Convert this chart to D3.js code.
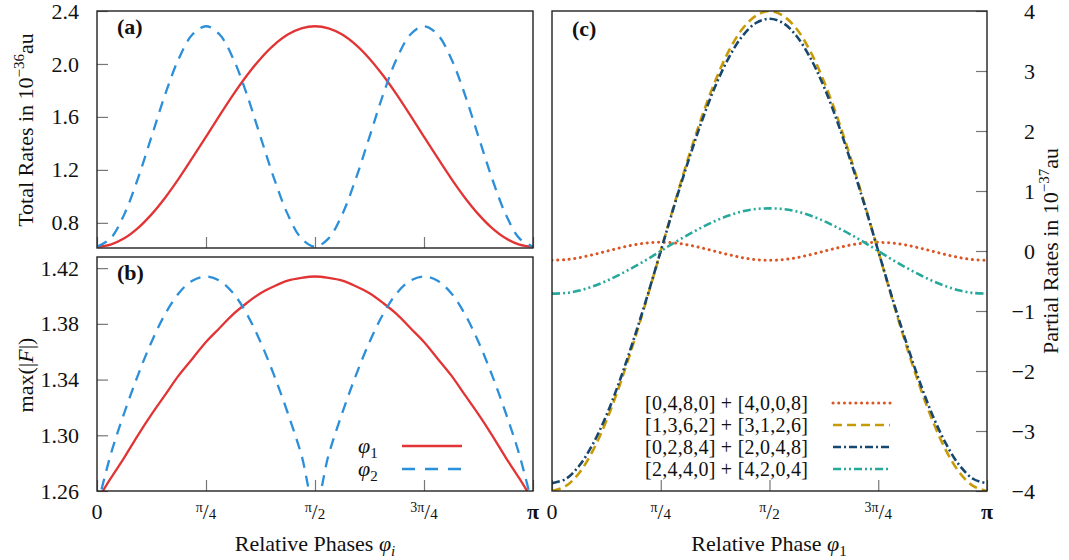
<!DOCTYPE html>
<html><head><meta charset="utf-8">
<script src="https://cdn.jsdelivr.net/npm/d3@7"></script>
<style>
body{margin:0;background:#fff}
svg{display:block}
text{font-family:"Liberation Serif","Times New Roman","DejaVu Serif",serif;fill:#111}
</style>
</head><body>
<svg id="chart" width="1069" height="560" font-family="Liberation Serif, Times New Roman, serif"></svg>
<script>
const PI = Math.PI;
// phase grid (33 samples from 0 to pi)
const phases = d3.range(33).map(k => k * PI / 32);

// Panel (a): total rates (10^-36 au)
const totalPhi1 = [0.620,0.636,0.683,0.760,0.864,0.990,1.134,1.290,1.450,1.612,1.769,1.913,2.040,2.144,2.222,2.269,2.285,2.269,2.222,2.144,2.040,1.913,1.769,1.612,1.450,1.290,1.134,0.990,0.864,0.760,0.683,0.636,0.620];
const totalPhi2 = [0.620,0.683,0.864,1.134,1.450,1.769,2.040,2.222,2.285,2.222,2.040,1.769,1.450,1.134,0.864,0.683,0.620,0.683,0.864,1.134,1.450,1.769,2.040,2.222,2.285,2.222,2.040,1.769,1.450,1.134,0.864,0.683,0.620];

// Panel (b): max(|F|)
const fieldPhi1 = [1.253,1.269,1.284,1.300,1.315,1.329,1.343,1.355,1.367,1.377,1.387,1.395,1.402,1.407,1.411,1.413,1.414,1.413,1.411,1.407,1.402,1.395,1.387,1.377,1.367,1.355,1.343,1.329,1.315,1.300,1.284,1.269,1.253];
const fieldPhi2 = [1.248,1.286,1.316,1.343,1.367,1.387,1.402,1.411,1.414,1.411,1.402,1.387,1.367,1.343,1.316,1.286,1.248,1.286,1.316,1.343,1.367,1.387,1.402,1.411,1.414,1.411,1.402,1.387,1.367,1.343,1.316,1.286,1.248];

// Panel (c): partial rates (10^-37 au)
const partial0480 = [-0.155,-0.144,-0.111,-0.062,-0.005,0.052,0.101,0.134,0.145,0.134,0.101,0.052,-0.005,-0.062,-0.111,-0.144,-0.155,-0.144,-0.111,-0.062,-0.005,0.052,0.101,0.134,0.145,0.134,0.101,0.052,-0.005,-0.062,-0.111,-0.144,-0.155];
const partial1362 = [-4.00,-3.92,-3.70,-3.33,-2.83,-2.22,-1.53,-0.78,0.00,0.78,1.53,2.22,2.83,3.33,3.70,3.92,4.00,3.92,3.70,3.33,2.83,2.22,1.53,0.78,0.00,-0.78,-1.53,-2.22,-2.83,-3.33,-3.70,-3.92,-4.00];
const partial0284 = [-3.87,-3.80,-3.58,-3.22,-2.74,-2.15,-1.48,-0.76,0.00,0.76,1.48,2.15,2.74,3.22,3.58,3.80,3.87,3.80,3.58,3.22,2.74,2.15,1.48,0.76,0.00,-0.76,-1.48,-2.15,-2.74,-3.22,-3.58,-3.80,-3.87];
const partial2440 = [-0.71,-0.70,-0.66,-0.59,-0.50,-0.39,-0.27,-0.14,0.00,0.14,0.27,0.39,0.50,0.59,0.66,0.70,0.71,0.70,0.66,0.59,0.50,0.39,0.27,0.14,0.00,-0.14,-0.27,-0.39,-0.50,-0.59,-0.66,-0.70,-0.71];

const legendAB = ["1", "2"];
const legendC = ["[0,4,8,0] + [4,0,0,8]", "[1,3,6,2] + [3,1,2,6]", "[0,2,8,4] + [2,0,4,8]", "[2,4,4,0] + [4,2,0,4]"];

const phaseTicks = [0, PI/4, PI/2, 3*PI/4, PI];
const phaseTickLabels = ["0", "π/4", "π/2", "3π/4", "π"];
const totalTicks = [0.8, 1.2, 1.6, 2.0, 2.4];
const fieldTicks = [1.26, 1.30, 1.34, 1.38, 1.42];
const partialTicks = [-4, -3, -2, -1, 0, 1, 2, 3, 4];

const svg = d3.select("#chart");
const PA = {x0:97, x1:533, y0:11, y1:248};
const PB = {x0:97, x1:533, y0:257, y1:491};
const PC = {x0:552, x1:987, y0:11, y1:491};

const xAB = d3.scaleLinear([0, PI], [PA.x0, PA.x1]);
const xC = d3.scaleLinear([0, PI], [PC.x0, PC.x1]);
const yA = d3.scaleLinear([0.61, 2.4], [PA.y1, PA.y0]);
const yB = d3.scaleLinear([1.26, 1.428], [PB.y1, PB.y0]);
const yC = d3.scaleLinear([-4, 4], [PC.y1, PC.y0]);

const RED = "#e23434", BLUE = "#2b8fda";
const ORANGE = "#dd5522", GOLD = "#c89b06", NAVY = "#17466f", TEAL = "#26a89b";

const defs = svg.append("defs");
[["clipA",PA],["clipB",PB],["clipC",PC]].forEach(([id,P]) => {
  defs.append("clipPath").attr("id", id).append("rect")
    .attr("x", P.x0).attr("y", P.y0).attr("width", P.x1-P.x0).attr("height", P.y1-P.y0);
});

function styleAxis(g){
  g.select(".domain").remove();
  g.selectAll(".tick line").attr("stroke", "#777").attr("stroke-width", 1.2);
  g.attr("font-family", "Liberation Serif, Times New Roman, serif").attr("font-size", null);
  g.selectAll(".tick text").attr("font-size", 22).attr("fill", "#111");
}

// y axes
svg.append("g").attr("transform", `translate(${PA.x0},0)`)
  .call(d3.axisLeft(yA).tickValues(totalTicks).tickSize(-11).tickPadding(18).tickFormat(d3.format(".1f")))
  .call(styleAxis);
svg.append("g").attr("transform", `translate(${PB.x0},0)`)
  .call(d3.axisLeft(yB).tickValues(fieldTicks).tickSize(-11).tickPadding(18).tickFormat(d3.format(".2f")))
  .call(styleAxis);
const rAx = svg.append("g").attr("transform", `translate(${PC.x1},0)`)
  .call(d3.axisRight(yC).tickValues(partialTicks).tickSize(-11).tickPadding(0).tickFormat(d3.format("d")))
  .call(styleAxis);
rAx.selectAll(".tick text").attr("text-anchor", "end").attr("x", 48);

// x axes
[[PA.y1, xAB], [PB.y1, xAB], [PC.y1, xC]].forEach(([y, xs]) => {
  svg.append("g").attr("transform", `translate(0,${y})`)
    .call(d3.axisBottom(xs).tickValues(phaseTicks).tickSize(-11).tickFormat(""))
    .call(styleAxis);
});

// x tick labels (nicefrac style)
function phaseLabels(xs){
  phaseTicks.forEach((v, i) => {
    const lab = phaseTickLabels[i];
    const t = svg.append("text").attr("x", xs(v)).attr("y", 519).attr("text-anchor", "middle");
    if (lab.includes("/")) {
      const [num, den] = lab.split("/");
      t.append("tspan").attr("font-size", 14).attr("dy", -7).text(num);
      t.append("tspan").attr("font-size", 21).attr("dy", 7).text("/");
      t.append("tspan").attr("font-size", 15).text(den);
    } else if (lab === "π") {
      t.attr("font-size", 22).attr("font-weight", "bold").text(lab);
    } else {
      t.attr("font-size", 22).text(lab);
    }
  });
}
phaseLabels(xAB);
phaseLabels(xC);

// curves
function curve(clip, ys, xs, vals, color, dash, width, cap){
  const line = d3.line().x((d,i) => xs(phases[i])).y(d => ys(d)).curve(d3.curveCatmullRom.alpha(0.5));
  svg.append("path").attr("clip-path", `url(#${clip})`).attr("d", line(vals))
    .attr("fill", "none").attr("stroke", color).attr("stroke-width", width)
    .attr("stroke-dasharray", dash).attr("stroke-linecap", cap || "butt");
}
curve("clipA", yA, xAB, totalPhi1, RED, null, 2.3);
curve("clipA", yA, xAB, totalPhi2, BLUE, "11,8", 2.3);
curve("clipB", yB, xAB, fieldPhi1, RED, null, 2.3);
curve("clipB", yB, xAB, fieldPhi2, BLUE, "11,8", 2.3);

const cStyles = [
  [partial0480, ORANGE, "0.1,5.6", 3, "round"],
  [partial1362, GOLD, "9,5", 2.6, "butt"],
  [partial0284, NAVY, "8,3,2,3", 2.6, "butt"],
  [partial2440, TEAL, "8,3,2,3,2,3", 2.6, "butt"]
];
cStyles.forEach(s => curve("clipC", yC, xC, s[0], s[1], s[2], s[3], s[4]));

// frames
[PA, PB, PC].forEach(P => {
  svg.append("rect").attr("x", P.x0).attr("y", P.y0).attr("width", P.x1-P.x0).attr("height", P.y1-P.y0)
    .attr("fill", "none").attr("stroke", "#222").attr("stroke-width", 1.4);
});

// panel labels
[["(a)",117,34],["(b)",117,280],["(c)",572,36]].forEach(([t,x,y]) => {
  svg.append("text").attr("x", x).attr("y", y).attr("font-size", 22).attr("font-weight", "bold").text(t);
});

// legend (b)
[[RED, null],[BLUE, "13,10"]].forEach(([c, dash], i) => {
  const y = 446 + i*23;
  const t = svg.append("text").attr("x", 358).attr("y", y + 7).attr("font-size", 22);
  t.append("tspan").attr("font-style", "italic").text("φ");
  t.append("tspan").attr("font-size", 15).attr("dy", 5).text(legendAB[i]);
  svg.append("line").attr("x1", 402).attr("x2", 462).attr("y1", y).attr("y2", y)
    .attr("stroke", c).attr("stroke-width", 2.3).attr("stroke-dasharray", dash);
});

// legend (c)
legendC.forEach((lab, i) => {
  const y = 403 + i*22;
  svg.append("text").attr("x", 645).attr("y", y + 7).attr("font-size", 20)
    .attr("textLength", 163).attr("lengthAdjust", "spacing").text(lab);
  const s = cStyles[i];
  svg.append("line").attr("x1", 833).attr("x2", 890).attr("y1", y).attr("y2", y)
    .attr("stroke", s[1]).attr("stroke-width", s[3]).attr("stroke-dasharray", s[2]).attr("stroke-linecap", s[4]);
});

// axis titles
function rotTitle(x, y, parts){
  const t = svg.append("text").attr("transform", `translate(${x},${y}) rotate(-90)`)
    .attr("text-anchor", "middle").attr("font-size", 22);
  parts.forEach(p => {
    const ts = t.append("tspan").text(p.t);
    if (p.sup) ts.attr("font-size", 15).attr("dy", -9);
    if (p.back) ts.attr("dy", 9);
    if (p.it) ts.attr("font-style", "italic");
  });
}
rotTitle(33, 130, [{t:"Total Rates in 10"},{t:"−36",sup:true},{t:"au",back:true}]);
rotTitle(33, 375, [{t:"max(|"},{t:"F",it:true},{t:"|)"}]);
rotTitle(1058, 251, [{t:"Partial Rates in 10"},{t:"−37",sup:true},{t:"au",back:true}]);

function xTitle(x, main, sub, subItalic){
  const t = svg.append("text").attr("x", x).attr("y", 551).attr("text-anchor", "middle").attr("font-size", 22);
  t.append("tspan").text(main);
  t.append("tspan").attr("font-style", "italic").text("φ");
  const s = t.append("tspan").attr("font-size", 15).attr("dy", 5).text(sub);
  if (subItalic) s.attr("font-style", "italic");
}
xTitle(315, "Relative Phases ", "i", true);
xTitle(769, "Relative Phase ", "1", false);
</script>
</body></html>
